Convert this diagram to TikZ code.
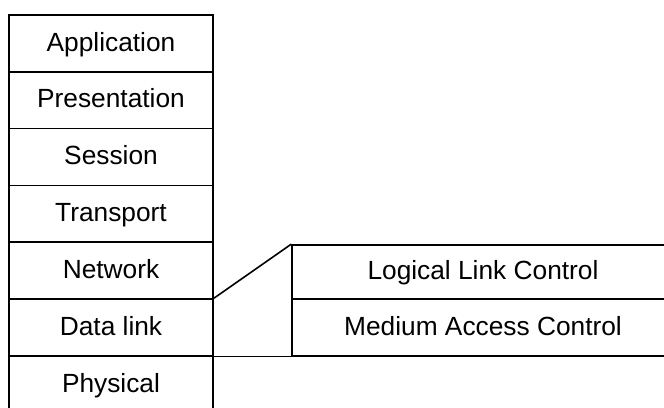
\documentclass[tikz,border=0pt]{standalone}
\usepackage{fontspec}
\setmainfont{Liberation Sans}
\begin{document}
\begin{tikzpicture}[x=1pt,y=-1pt,
  layer/.style={draw, line width=1.6pt, rectangle, minimum width=204.3pt, minimum height=56.8pt,
    inner sep=0pt, text height=18.8pt, text depth=3.5pt, font=\fontsize{26.3}{30}\selectfont},
  sublayer/.style={layer, minimum width=382pt},
  link/.style={line width=1.6pt}]
\useasboundingbox (0,0) rectangle (664,407);
\clip (0,0) rectangle (664,407);
\node[layer] (app) at (111,43.4) {Application};
\node[layer] (pre) at (111,100.2) {Presentation};
\node[layer] (ses) at (111,157.0) {Session};
\node[layer] (tra) at (111,213.8) {Transport};
\node[layer] (net) at (111,270.6) {Network};
\node[layer] (dl) at (111,327.4) {Data link};
\node[layer] (phy) at (111,384.6) {Physical};
\node[sublayer, minimum height=54pt] (llc) at (483,272) {Logical Link Control};
\node[sublayer, minimum height=56.8pt] (mac) at (483,327.4) {Medium Access Control};
\draw[link] (dl.north east) -- (llc.north west);
\draw[link] (dl.south east) -- (mac.south west);
\end{tikzpicture}
\end{document}
